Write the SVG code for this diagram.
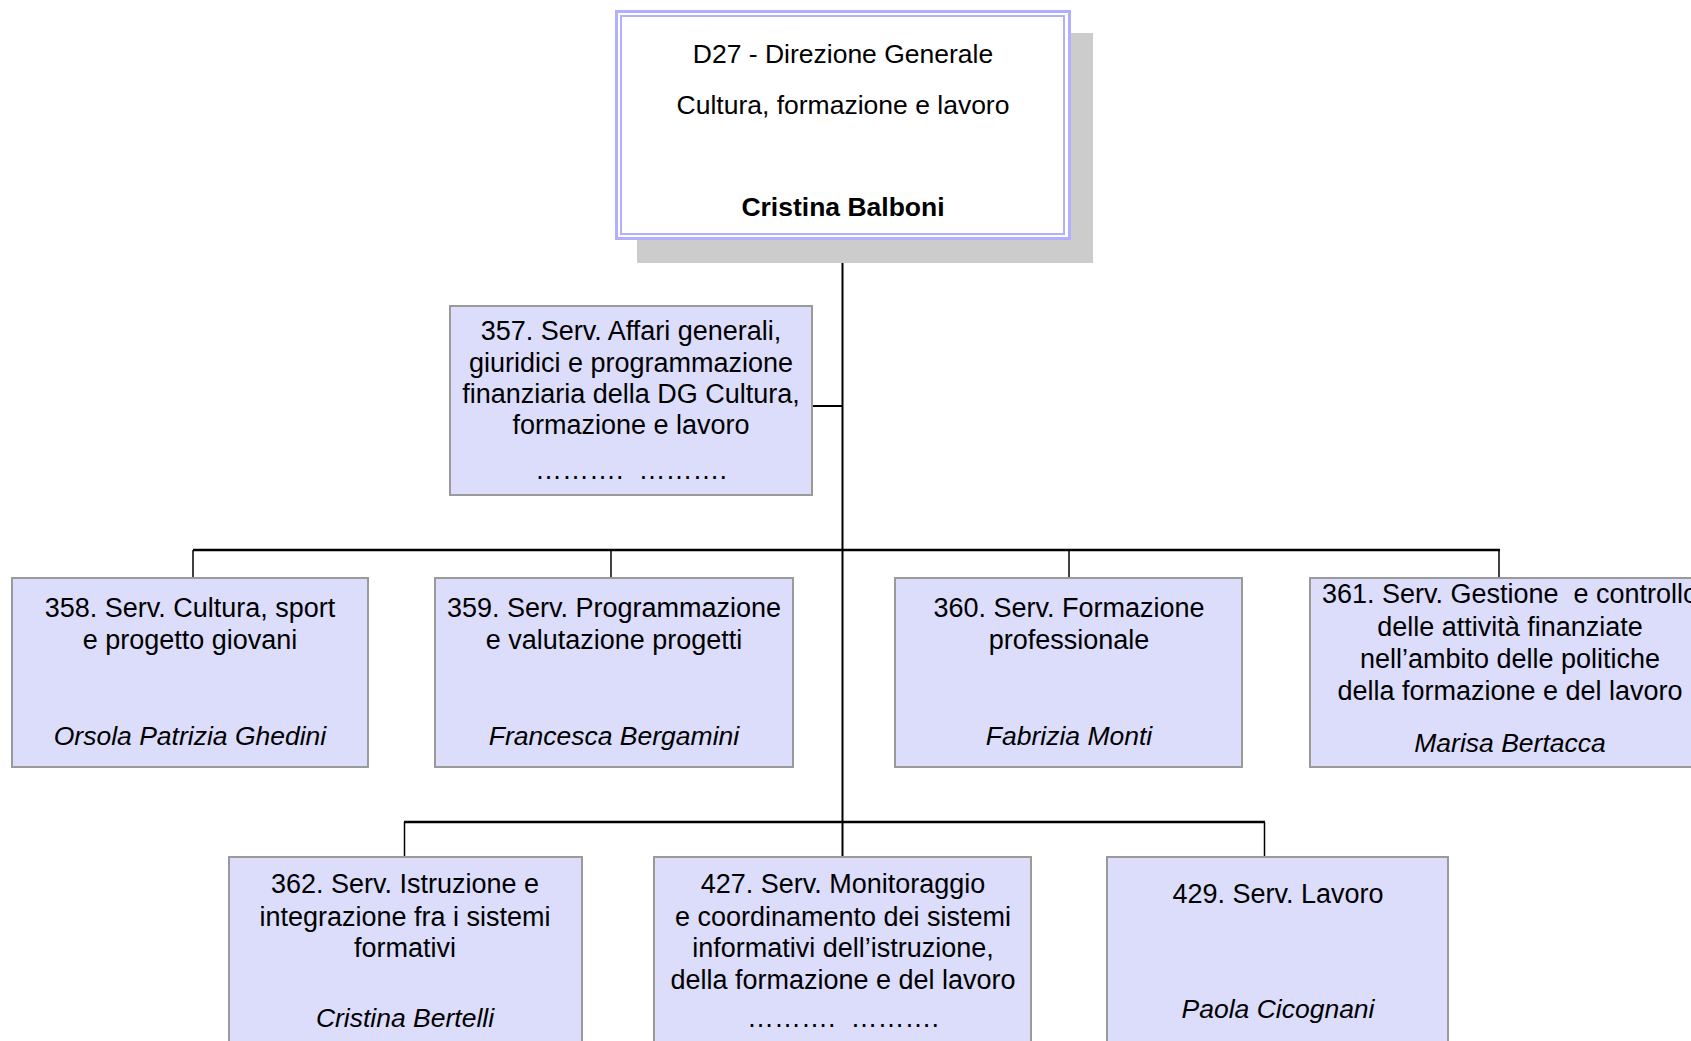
<svg xmlns="http://www.w3.org/2000/svg" width="1691" height="1041" viewBox="0 0 1691 1041">
<style>
.box{fill:#dcdcfb;stroke:#9a9a9a;stroke-width:2}
.t{font-family:"Liberation Sans",Arial,sans-serif;font-size:27px;fill:#000;text-anchor:middle;white-space:pre}
.top{font-size:26.5px}
.b{font-weight:bold}
.i{font-style:italic;font-size:26.5px}
.c{stroke:#000;fill:none}
</style>
<rect width="1691" height="1041" fill="#fff"/>
<g id="connectors">
<line class="c" x1="842.5" y1="239" x2="842.5" y2="857" stroke-width="2"/>
<line class="c" x1="812" y1="406" x2="842.5" y2="406" stroke-width="2"/>
<line class="c" x1="193" y1="550" x2="1500" y2="550" stroke-width="2.5"/>
<line class="c" x1="193" y1="550" x2="193" y2="578" stroke-width="1.5"/>
<line class="c" x1="611" y1="550" x2="611" y2="578" stroke-width="1.5"/>
<line class="c" x1="1069" y1="550" x2="1069" y2="578" stroke-width="1.5"/>
<line class="c" x1="1499" y1="550" x2="1499" y2="578" stroke-width="1.5"/>
<line class="c" x1="404" y1="822" x2="1265" y2="822" stroke-width="2.5"/>
<line class="c" x1="404.5" y1="822" x2="404.5" y2="857" stroke-width="1.5"/>
<line class="c" x1="1264.5" y1="822" x2="1264.5" y2="857" stroke-width="1.5"/>
</g>
<g id="d27">
<rect x="637" y="33" width="456" height="230" fill="#cccccc"/>
<rect x="616.5" y="11.5" width="453" height="227" fill="#fff" stroke="#b0b0ff" stroke-width="3"/>
<rect x="621" y="16" width="443" height="218" fill="#fff" stroke="#b0b0ff" stroke-width="2"/>
<text class="t top" x="843" y="63">D27 - Direzione Generale</text>
<text class="t top" x="843" y="114">Cultura, formazione e lavoro</text>
<text class="t top b" x="843" y="216">Cristina Balboni</text>
</g>
<g id="s357">
<rect class="box" x="450" y="306" width="362" height="189"/>
<text class="t" x="631" y="340">357. Serv. Affari generali,</text>
<text class="t" x="631" y="372">giuridici e programmazione</text>
<text class="t" x="631" y="403">finanziaria della DG Cultura,</text>
<text class="t" x="631" y="434">formazione e lavoro</text>
<text class="t" x="631" y="479">……….  ……….</text>
</g>
<g id="s358">
<rect class="box" x="12" y="578" width="356" height="189"/>
<text class="t" x="190" y="617">358. Serv. Cultura, sport</text>
<text class="t" x="190" y="649">e progetto giovani</text>
<text class="t i" x="190" y="745">Orsola Patrizia Ghedini</text>
</g>
<g id="s359">
<rect class="box" x="435" y="578" width="358" height="189"/>
<text class="t" x="614" y="617">359. Serv. Programmazione</text>
<text class="t" x="614" y="649">e valutazione progetti</text>
<text class="t i" x="614" y="745">Francesca Bergamini</text>
</g>
<g id="s360">
<rect class="box" x="895" y="578" width="347" height="189"/>
<text class="t" x="1069" y="617">360. Serv. Formazione</text>
<text class="t" x="1069" y="649">professionale</text>
<text class="t i" x="1069" y="745">Fabrizia Monti</text>
</g>
<g id="s361">
<rect class="box" x="1310" y="578" width="400" height="189"/>
<text class="t" x="1510" y="603">361. Serv. Gestione  e controllo</text>
<text class="t" x="1510" y="636">delle attività finanziate</text>
<text class="t" x="1510" y="668">nell’ambito delle politiche</text>
<text class="t" x="1510" y="700">della formazione e del lavoro</text>
<text class="t i" x="1510" y="752">Marisa Bertacca</text>
</g>
<g id="s362">
<rect class="box" x="229" y="857" width="353" height="203"/>
<text class="t" x="405" y="893">362. Serv. Istruzione e</text>
<text class="t" x="405" y="926">integrazione fra i sistemi</text>
<text class="t" x="405" y="957">formativi</text>
<text class="t i" x="405" y="1027">Cristina Bertelli</text>
</g>
<g id="s427">
<rect class="box" x="654" y="857" width="377" height="203"/>
<text class="t" x="843" y="893">427. Serv. Monitoraggio</text>
<text class="t" x="843" y="926">e coordinamento dei sistemi</text>
<text class="t" x="843" y="957">informativi dell’istruzione,</text>
<text class="t" x="843" y="989">della formazione e del lavoro</text>
<text class="t" x="843" y="1027">……….  ……….</text>
</g>
<g id="s429">
<rect class="box" x="1107" y="857" width="341" height="203"/>
<text class="t" x="1278" y="903">429. Serv. Lavoro</text>
<text class="t i" x="1278" y="1018">Paola Cicognani</text>
</g>
</svg>
